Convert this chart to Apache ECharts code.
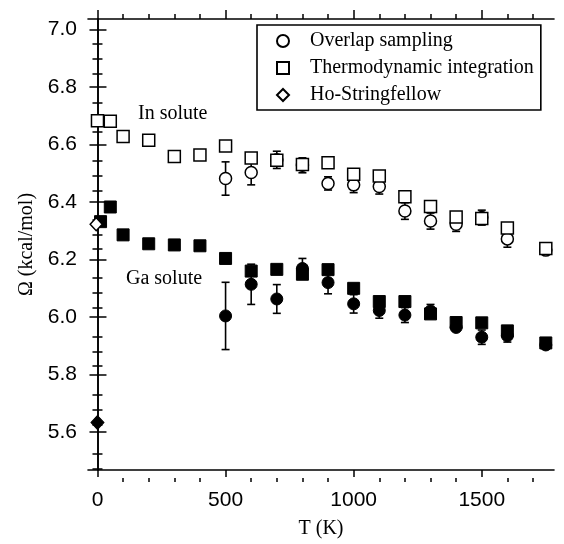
<!DOCTYPE html>
<html>
<head>
<meta charset="utf-8">
<script src="https://cdn.jsdelivr.net/npm/echarts@6/dist/echarts.min.js"></script>
<style>html,body{margin:0;padding:0;background:#fff}#c{width:564px;height:544px}</style>
</head>
<body>
<div id="c"></div>
<script>
// ---- data ----
const tiInX = [0, 50, 100, 200, 300, 400, 500, 600, 700, 800, 900, 1000, 1100, 1200, 1300, 1400, 1500, 1600, 1750];
const tiInY = [6.682, 6.680, 6.627, 6.614, 6.558, 6.563, 6.594, 6.552, 6.545, 6.530, 6.536, 6.496, 6.490, 6.418, 6.384, 6.347, 6.342, 6.309, 6.238];
const tiGaX = [12, 50, 100, 200, 300, 400, 500, 600, 700, 800, 900, 1000, 1100, 1200, 1300, 1400, 1500, 1600, 1750];
const tiGaY = [6.331, 6.382, 6.285, 6.254, 6.250, 6.247, 6.203, 6.159, 6.165, 6.148, 6.164, 6.099, 6.053, 6.053, 6.010, 5.980, 5.979, 5.951, 5.909];
const osX = [500, 600, 700, 800, 900, 1000, 1100, 1200, 1300, 1400, 1500, 1600, 1750];
const osInY = [6.481, 6.502, 6.546, 6.527, 6.464, 6.459, 6.453, 6.368, 6.333, 6.322, 6.345, 6.271, 6.232];
const osInErr = [0.058, 0.043, 0.030, 0.026, 0.023, 0.027, 0.026, 0.029, 0.028, 0.025, 0.026, 0.029, 0.012];
const osGaY = [6.003, 6.113, 6.062, 6.168, 6.119, 6.045, 6.022, 6.006, 6.020, 5.963, 5.929, 5.934, 5.902];
const osGaErr = [0.117, 0.070, 0.050, 0.035, 0.039, 0.032, 0.027, 0.026, 0.023, 0.010, 0.025, 0.022, 0.010];
const hsInX = [-5], hsInY = [6.322];
const hsGaX = [0], hsGaY = [5.632];
const xMajor = [0, 500, 1000, 1500];
const xMinor = [100, 200, 300, 400, 600, 700, 800, 900, 1100, 1200, 1300, 1400, 1600, 1700];
const yMajor = [5.6, 5.8, 6.0, 6.2, 6.4, 6.6, 6.8, 7.0];
const yMinor = [5.5, 5.55, 5.65, 5.7, 5.75, 5.85, 5.9, 5.95, 6.05, 6.1, 6.15, 6.25, 6.3, 6.35, 6.45, 6.5, 6.55, 6.65, 6.7, 6.75, 6.85, 6.9, 6.95];
const X_MIN = -37, X_MAX = 1782, Y_MIN = 5.467, Y_MAX = 7.036;

const zip = (xs, ys) => xs.map((x, i) => [x, ys[i]]);
const errData = (xs, ys, es) => xs.map((x, i) => [x, ys[i] - es[i], ys[i] + es[i]]);

const BLACK = '#000';
const serif = 'Liberation Serif';
const sans = 'Liberation Sans';
const gridBox = {left: 88, right: 10, top: 19, bottom: 66};

function xAx(gridIndex, position, ticks, len, labeled) {
  return {
    type: 'value', gridIndex, position, min: X_MIN, max: X_MAX,
    axisLine: {show: gridIndex === 0, lineStyle: {color: BLACK, width: 1.6}},
    axisTick: {show: true, customValues: ticks, length: len, inside: false, lineStyle: {color: BLACK, width: 1.5}},
    axisLabel: labeled ? {show: true, customValues: ticks, color: BLACK, fontFamily: sans, fontSize: 21, margin: 20,
      formatter: v => String(Math.round(v))} : {show: false},
    splitLine: {show: false},
    name: labeled ? 'T (K)' : '', nameLocation: 'middle', nameGap: 49,
    nameTextStyle: {fontFamily: serif, fontSize: 20, color: BLACK}
  };
}
function yAx(gridIndex, position, ticks, len, labeled) {
  return {
    type: 'value', gridIndex, position, min: Y_MIN, max: Y_MAX,
    axisLine: {show: gridIndex === 0, lineStyle: {color: BLACK, width: 1.6}},
    axisTick: {show: true, customValues: ticks, length: len, inside: false, lineStyle: {color: BLACK, width: 1.5}},
    axisLabel: labeled ? {show: true, customValues: ticks, color: BLACK, fontFamily: sans, fontSize: 21, margin: 11,
      formatter: v => v.toFixed(1)} : {show: false},
    splitLine: {show: false},
    name: labeled ? 'Ω (kcal/mol)' : '', nameLocation: 'middle', nameGap: 50,
    nameTextStyle: {fontFamily: serif, fontSize: 20, color: BLACK}
  };
}

function errRender(params, api) {
  const x = api.value(0);
  const lo = api.coord([x, api.value(1)]);
  const hi = api.coord([x, api.value(2)]);
  const w = 4;
  const st = {stroke: BLACK, lineWidth: 1.6};
  return {type: 'group', children: [
    {type: 'line', shape: {x1: lo[0], y1: lo[1], x2: hi[0], y2: hi[1]}, style: st},
    {type: 'line', shape: {x1: lo[0] - w, y1: lo[1], x2: lo[0] + w, y2: lo[1]}, style: st},
    {type: 'line', shape: {x1: hi[0] - w, y1: hi[1], x2: hi[0] + w, y2: hi[1]}, style: st}
  ]};
}

const openStyle = {color: '#fff', borderColor: BLACK, borderWidth: 1.5, opacity: 1};
const fillStyle = {color: BLACK, borderColor: BLACK, borderWidth: 1, opacity: 1};

const option = {
  backgroundColor: '#fff',
  animation: false,
  grid: [Object.assign({}, gridBox), Object.assign({}, gridBox)],
  xAxis: [
    xAx(0, 'bottom', xMajor, 7, true),
    xAx(0, 'top', xMajor, 9, false),
    xAx(1, 'bottom', xMinor, 4, false),
    xAx(1, 'top', xMinor, 5, false)
  ],
  yAxis: [
    yAx(0, 'left', yMajor, 8, true),
    yAx(0, 'right', yMajor, 9, false),
    yAx(1, 'left', yMinor, 5, false),
    yAx(1, 'right', yMinor, 5, false)
  ],
  legend: {
    data: ['Overlap sampling', 'Thermodynamic integration', 'Ho-Stringfellow'],
    orient: 'vertical', left: 257, top: 25,
    padding: [6, 7, 5, 19], itemGap: 7, itemWidth: 12, itemHeight: 12,
    borderColor: BLACK, borderWidth: 1.6, backgroundColor: '#fff',
    textStyle: {fontFamily: serif, fontSize: 20, color: BLACK, padding: [0, 0, 0, 16]},
    selectedMode: false
  },
  graphic: [
    {type: 'text', left: 138, top: 104, style: {text: 'In solute', font: '20px "Liberation Serif"', fill: BLACK}},
    {type: 'text', left: 126, top: 269, style: {text: 'Ga solute', font: '20px "Liberation Serif"', fill: BLACK}}
  ],
  series: [
    {type: 'custom', name: 'errIn', xAxisIndex: 0, yAxisIndex: 0, renderItem: errRender, data: errData(osX, osInY, osInErr), z: 1},
    {type: 'custom', name: 'errGa', xAxisIndex: 0, yAxisIndex: 0, renderItem: errRender, data: errData(osX, osGaY, osGaErr), z: 1},
    {type: 'scatter', name: 'Overlap sampling', symbol: 'circle', symbolSize: 12, itemStyle: openStyle, data: zip(osX, osInY), z: 2},
    {type: 'scatter', name: 'Thermodynamic integration', symbol: 'rect', symbolSize: 12, itemStyle: openStyle, data: zip(tiInX, tiInY), z: 3},
    {type: 'scatter', name: 'Ho-Stringfellow', symbol: 'diamond', symbolSize: [12, 13], itemStyle: openStyle, data: zip(hsInX, hsInY), z: 5},
    {type: 'scatter', name: 'Overlap sampling Ga', symbol: 'circle', symbolSize: 12, itemStyle: fillStyle, data: zip(osX, osGaY), z: 2},
    {type: 'scatter', name: 'Thermodynamic integration Ga', symbol: 'rect', symbolSize: 12, itemStyle: fillStyle, data: zip(tiGaX, tiGaY), z: 3},
    {type: 'scatter', name: 'Ho-Stringfellow Ga', symbol: 'diamond', symbolSize: [13, 14], itemStyle: fillStyle, data: zip(hsGaX, hsGaY), z: 4}
  ]
};
const chart = echarts.init(document.getElementById('c'), null, {renderer: 'canvas'});
chart.setOption(option);
</script>
</body>
</html>
